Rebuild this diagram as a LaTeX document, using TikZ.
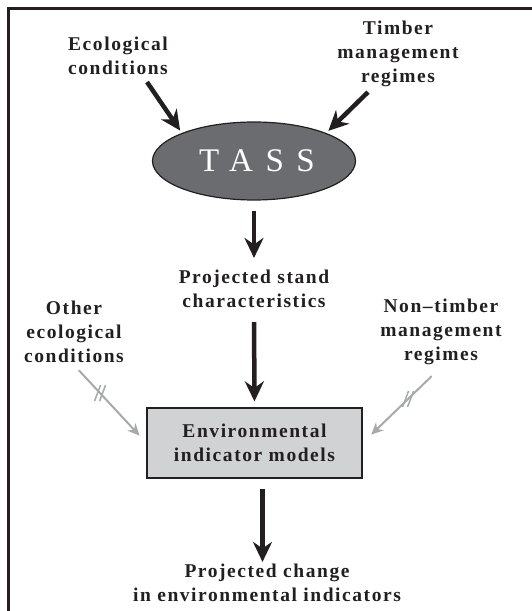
\documentclass[tikz,border=0pt]{standalone}
\usepackage{fontspec}
\setmainfont{Liberation Serif}
\usepackage{tikz}
\usetikzlibrary{arrows.meta,shapes.geometric}
\definecolor{ink}{HTML}{231F20}
\definecolor{tassgrey}{HTML}{6B6C6F}
\definecolor{boxgrey}{HTML}{D1D2D4}
\definecolor{linkgrey}{HTML}{A7A9AC}

\begin{document}
\begin{tikzpicture}[x=1pt,y=1pt,
  lbl/.style={align=center,text=ink,inner sep=2pt,
    font=\fontsize{19.5}{24}\selectfont\bfseries\addfontfeature{LetterSpace=8}},
  bigarrow/.style={draw=ink,line width=4.5pt,-{Stealth[length=20pt,width=19pt]}},
  greyarrow/.style={draw=linkgrey,line width=2pt,-{Stealth[length=12pt,width=11pt]}},
  greymark/.style={draw=linkgrey,line width=1.5pt}]
\useasboundingbox (0,0) rectangle (532,611);
% frame, cut off at the right and at the bottom
\draw[ink,line width=2.8pt] (8.7,0) -- (8.7,602.3) -- (532,602.3);

\node[lbl] (eco) at (118,555) {Ecological\\conditions};
\node[lbl] (timber) at (398,557) {Timber\\management\\regimes};
\node[ellipse,draw=ink,fill=tassgrey,line width=1.2pt,minimum width=203pt,
  minimum height=78pt,inner sep=0pt,text=white,
  font=\fontsize{33}{33}\selectfont\addfontfeature{LetterSpace=38}] (tass) at (254,450) {\hspace*{6pt}TASS};
\node[lbl] (stand) at (254,322) {Projected stand\\characteristics};
\node[lbl] (other) at (74,279) {Other\\ecological\\conditions};
\node[lbl] (nontimber) at (441,279) {Non–timber\\management\\regimes};
\node[lbl,draw=ink,fill=boxgrey,line width=1.2pt,minimum width=215pt,
  minimum height=70pt] (env) at (254.5,168) {Environmental\\indicator models};
\node[lbl] (change) at (267,28) {Projected change\\in environmental indicators};

% inputs to TASS
\draw[bigarrow,shorten >=3pt] (eco.south) ++(29,-5) -- (tass.north west);
\draw[bigarrow,shorten >=3pt] (timber.south) ++(-30,-3) -- (tass.north east);
% main chain
\draw[bigarrow,shorten <=10pt,shorten >=10pt] (tass.south) -- (stand.north);
\draw[bigarrow,shorten <=12pt,shorten >=6pt] (stand.south) -- (env.north);
\draw[bigarrow,shorten <=10pt] ([xshift=8pt]env.south) -- ([xshift=8pt]env.south |- change.north);
% other inputs (not linked)
\draw[greyarrow,shorten <=7pt,shorten >=10pt] (other.south) -- (env.west);
\draw[greyarrow,shorten <=13pt,shorten >=12pt] (nontimber.south) -- (env.east);
\path (other.south) -- (env.west) coordinate[pos=0.36] (om);
\path (nontimber.south) -- (env.east) coordinate[pos=0.42] (nm);
\foreach \dx in {-2.5,2.5}{
  \draw[greymark] ([shift={(\dx-3,-8)}]om) -- ++(6,16);
  \draw[greymark] ([shift={(\dx-3,-8)}]nm) -- ++(6,16);
}
\end{tikzpicture}
\end{document}
